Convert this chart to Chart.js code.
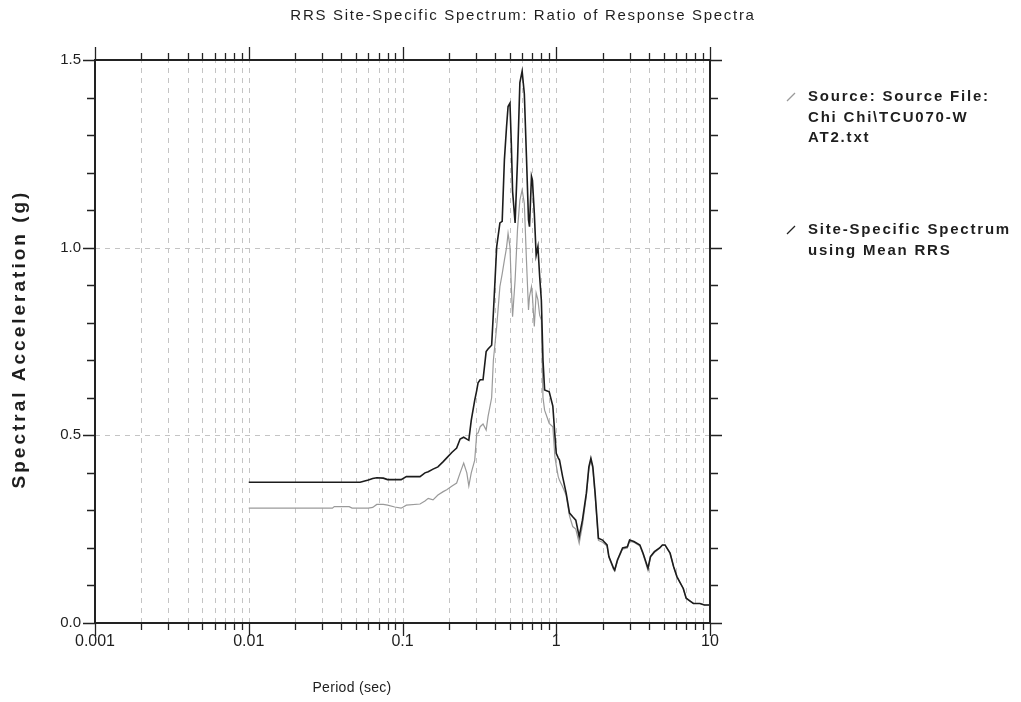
<!DOCTYPE html>
<html><head><meta charset="utf-8">
<script src="https://cdn.jsdelivr.net/npm/chart.js@4.4.0/dist/chart.umd.min.js"></script>
<style>html,body{margin:0;padding:0;background:#fff;}canvas{display:block;}</style>
</head><body>
<canvas id="c" width="1021" height="702"></canvas>
<script>
// ---- data ----
const periods = [0.01,0.02,0.035,0.036,0.045,0.047,0.053,0.06,0.064,0.068,0.075,0.08,0.089,0.098,0.106,0.13,0.14,0.147,0.158,0.17,0.184,0.194,0.21,0.225,0.237,0.25,0.262,0.27,0.28,0.295,0.304,0.31,0.32,0.334,0.35,0.36,0.38,0.39,0.41,0.43,0.445,0.46,0.475,0.486,0.5,0.51,0.52,0.54,0.56,0.58,0.6,0.62,0.64,0.66,0.67,0.69,0.7,0.72,0.74,0.76,0.78,0.8,0.82,0.84,0.9,0.95,0.98,1.0,1.03,1.05,1.1,1.16,1.22,1.28,1.34,1.41,1.48,1.57,1.63,1.68,1.73,1.79,1.88,2.0,2.14,2.2,2.36,2.4,2.5,2.7,2.9,3.0,3.2,3.5,3.67,3.95,4.1,4.35,4.7,4.9,5.1,5.5,5.8,6.1,6.7,7.0,7.5,7.8,8.6,9.2,10];
const siteSpecific = [0.375,0.375,0.375,0.375,0.375,0.375,0.375,0.381,0.385,0.387,0.386,0.382,0.382,0.382,0.39,0.39,0.40,0.403,0.41,0.416,0.43,0.44,0.455,0.466,0.49,0.495,0.49,0.487,0.54,0.594,0.62,0.64,0.648,0.648,0.723,0.73,0.74,0.826,1.003,1.066,1.07,1.234,1.322,1.376,1.385,1.28,1.15,1.066,1.234,1.44,1.47,1.41,1.243,1.074,1.056,1.19,1.18,1.092,0.98,1.003,0.923,0.86,0.70,0.621,0.616,0.578,0.50,0.452,0.44,0.434,0.39,0.346,0.293,0.283,0.274,0.23,0.274,0.346,0.416,0.439,0.416,0.346,0.226,0.221,0.208,0.177,0.146,0.141,0.168,0.20,0.203,0.221,0.217,0.208,0.186,0.146,0.177,0.19,0.20,0.208,0.208,0.186,0.15,0.123,0.092,0.066,0.057,0.052,0.052,0.048,0.048];
const sourceFile = [0.306,0.306,0.306,0.31,0.31,0.306,0.306,0.306,0.308,0.316,0.316,0.314,0.309,0.306,0.314,0.317,0.325,0.332,0.328,0.341,0.35,0.355,0.365,0.373,0.40,0.426,0.40,0.365,0.40,0.434,0.505,0.506,0.523,0.53,0.514,0.55,0.60,0.70,0.79,0.896,0.93,0.967,1.0,1.038,1.003,0.90,0.816,0.914,1.05,1.127,1.154,1.118,0.967,0.834,0.87,0.896,0.87,0.79,0.879,0.861,0.82,0.807,0.60,0.567,0.532,0.523,0.443,0.42,0.39,0.38,0.363,0.34,0.285,0.257,0.25,0.212,0.26,0.34,0.41,0.435,0.41,0.34,0.22,0.215,0.205,0.175,0.142,0.138,0.165,0.197,0.20,0.218,0.215,0.205,0.183,0.14,0.175,0.188,0.199,0.207,0.207,0.186,0.15,0.123,0.092,0.066,0.057,0.052,0.052,0.048,0.048];
const xTickLabels = ['0.001','0.01','0.1','1','10'];
const yTickLabels = ['0.0','0.5','1.0','1.5'];
const titleText = 'RRS Site-Specific Spectrum: Ratio of Response Spectra';
const xTitleText = 'Period (sec)';
const yTitleText = 'Spectral Acceleration (g)';
const legendSource = ['Source: Source File:', 'Chi Chi\\TCU070-W', 'AT2.txt'];
const legendSite = ['Site-Specific Spectrum', 'using Mean RRS'];

// ---- helpers ----
const decades = xTickLabels.map(Number);
const xTickValues = [];
for (let k = 0; k < decades.length - 1; k++) {
  for (let m = 1; m <= 9; m++) xTickValues.push(+(m * decades[k]).toPrecision(10));
}
xTickValues.push(decades[decades.length - 1]);
const isDecade = v => decades.some(d => Math.abs(v - d) < d * 1e-6);
const FONT = '"Liberation Sans", Arial, sans-serif';

const decorPlugin = {
  id: 'decor',
  beforeDatasetsDraw(chart) {
    const {ctx, chartArea: a, scales: {x, y}} = chart;
    ctx.save();
    ctx.strokeStyle = '#c4c4c4';
    ctx.lineWidth = 1;
    ctx.setLineDash([5, 5]);
    xTickValues.forEach(v => {
      if (v <= x.min || v >= x.max) return;
      const px = Math.round(x.getPixelForValue(v)) + 0.5;
      ctx.beginPath(); ctx.moveTo(px, a.bottom); ctx.lineTo(px, a.top); ctx.stroke();
    });
    yTickLabels.map(Number).forEach(v => {
      if (v <= y.min || v >= y.max) return;
      const py = Math.round(y.getPixelForValue(v)) + 0.5;
      ctx.beginPath(); ctx.moveTo(a.left, py); ctx.lineTo(a.right, py); ctx.stroke();
    });
    ctx.restore();
  },
  afterDatasetsDraw(chart) {
    const {ctx, chartArea: a, scales: {x, y}} = chart;
    ctx.save();
    ctx.strokeStyle = '#222';
    ctx.lineWidth = 2;
    ctx.strokeRect(a.left, a.top, a.right - a.left, a.bottom - a.top);
    ctx.lineWidth = 1.3;
    ctx.beginPath();
    xTickValues.forEach(v => {
      const px = Math.round(x.getPixelForValue(v)) + 0.5;
      const len = isDecade(v) ? 13 : 7;
      ctx.moveTo(px, a.bottom); ctx.lineTo(px, a.bottom + len);
      ctx.moveTo(px, a.top); ctx.lineTo(px, a.top - len);
    });
    for (let i = 0; i <= 15; i++) {
      const v = i / 10;
      const py = Math.round(y.getPixelForValue(v)) + 0.5;
      const len = (i % 5 === 0) ? 12 : 8;
      ctx.moveTo(a.left, py); ctx.lineTo(a.left - len, py);
      ctx.moveTo(a.right, py); ctx.lineTo(a.right + len, py);
    }
    ctx.stroke();
    ctx.restore();
  },
  afterDraw(chart) {
    const {ctx} = chart;
    ctx.save();
    ctx.fillStyle = '#1e1e1e';
    ctx.textAlign = 'center';
    ctx.textBaseline = 'middle';
    ctx.font = '15px ' + FONT;
    ctx.letterSpacing = '1.7px';
    ctx.fillText(titleText, 523, 16);
    ctx.font = '14px ' + FONT;
    ctx.letterSpacing = '0.3px';
    ctx.fillText(xTitleText, 352, 688);
    ctx.save();
    ctx.translate(20, 339);
    ctx.rotate(-Math.PI / 2);
    ctx.font = 'bold 19px ' + FONT;
    ctx.letterSpacing = '3px';
    ctx.fillText(yTitleText, 0, 0);
    ctx.restore();
    // legend
    ctx.textAlign = 'left';
    ctx.font = 'bold 15px ' + FONT;
    ctx.letterSpacing = '1.8px';
    const entries = [
      {lines: legendSource, color: '#9a9a9a', y: 97},
      {lines: legendSite, color: '#222', y: 230}
    ];
    entries.forEach(e => {
      ctx.strokeStyle = e.color;
      ctx.lineWidth = 1.2;
      ctx.beginPath(); ctx.moveTo(787, e.y + 4); ctx.lineTo(795, e.y - 4); ctx.stroke();
      ctx.fillStyle = '#1e1e1e';
      e.lines.forEach((t, i) => ctx.fillText(t, 808, e.y + i * 20.5));
    });
    ctx.restore();
  }
};

new Chart(document.getElementById('c'), {
  type: 'line',
  data: {
    datasets: [
      {label: legendSite.join(' '), data: periods.map((p, i) => ({x: p, y: siteSpecific[i]})),
       borderColor: '#1c1c1c', borderWidth: 1.6, pointRadius: 0, tension: 0, fill: false},
      {label: legendSource.join(' '), data: periods.map((p, i) => ({x: p, y: sourceFile[i]})),
       borderColor: '#9a9a9a', borderWidth: 1.2, pointRadius: 0, tension: 0, fill: false}
    ]
  },
  options: {
    responsive: false,
    devicePixelRatio: 1,
    animation: false,
    layout: {padding: {left: 0, right: 311, top: 60, bottom: 0}},
    plugins: {legend: {display: false}, title: {display: false}, tooltip: {enabled: false}},
    scales: {
      x: {
        type: 'logarithmic', min: 0.001, max: 10,
        grid: {display: false, drawTicks: false},
        border: {display: false},
        afterBuildTicks(scale) { scale.ticks = xTickValues.map(v => ({value: v})); },
        afterFit(scale) { scale.height = 79; },
        ticks: {
          autoSkip: false, maxRotation: 0, minRotation: 0, padding: 9,
          color: '#1e1e1e', font: {family: FONT, size: 16},
          callback(value) { const i = decades.findIndex(d => Math.abs(value - d) < d * 1e-6); return i >= 0 ? xTickLabels[i] : ''; }
        }
      },
      y: {
        type: 'linear', min: 0, max: 1.5,
        grid: {display: false, drawTicks: false},
        border: {display: false},
        afterBuildTicks(scale) { scale.ticks = yTickLabels.map(v => ({value: Number(v)})); },
        afterFit(scale) { scale.width = 95; },
        ticks: {
          padding: 14, color: '#1e1e1e', font: {family: FONT, size: 15},
          callback(value, index) { return yTickLabels[index]; }
        }
      }
    }
  },
  plugins: [decorPlugin]
});
</script>
</body></html>
